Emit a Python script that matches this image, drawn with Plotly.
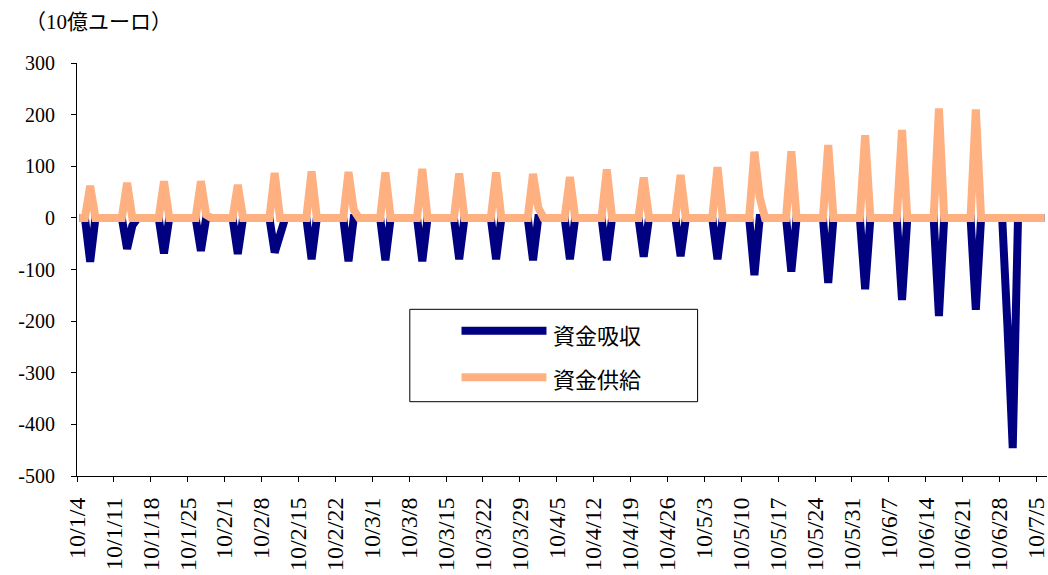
import pandas as pd
import plotly.graph_objects as go

# ---- data (10億ユーロ) ----
start_date = "2010-01-04"
end_date = "2010-07-06"

supply_dates = ["2010-01-06", "2010-01-13", "2010-01-20", "2010-01-27", "2010-02-03",
                "2010-02-10", "2010-02-17", "2010-02-24", "2010-03-03", "2010-03-10",
                "2010-03-17", "2010-03-24", "2010-03-31", "2010-04-07", "2010-04-14",
                "2010-04-21", "2010-04-28", "2010-05-05", "2010-05-12", "2010-05-19",
                "2010-05-26", "2010-06-02", "2010-06-09", "2010-06-16", "2010-06-23"]
supply_values = [62, 68, 71, 71, 64, 87, 90, 89, 88, 95, 86, 88, 85, 79, 94,
                 78, 83, 98, 128, 129, 141, 160, 170, 212, 210]
supply_extra_dates = ["2010-01-28", "2010-02-25", "2010-04-01", "2010-05-13"]
supply_extra_values = [6, 15, 20, 40]

absorb_dates = supply_dates + ["2010-06-30"]
absorb_values = [-85, -60, -69, -64, -70, -67, -80, -84, -82, -84, -80, -80, -82, -80, -82,
                 -75, -74, -80, -111, -104, -126, -138, -159, -190, -178, -446]
absorb_extra_dates = ["2010-01-14", "2010-02-11", "2010-06-29"]
absorb_extra_values = [-15, -30, -210]

tick_dates = ["2010-01-04", "2010-01-11", "2010-01-18", "2010-01-25", "2010-02-01",
              "2010-02-08", "2010-02-15", "2010-02-22", "2010-03-01", "2010-03-08",
              "2010-03-15", "2010-03-22", "2010-03-29", "2010-04-05", "2010-04-12",
              "2010-04-19", "2010-04-26", "2010-05-03", "2010-05-10", "2010-05-17",
              "2010-05-24", "2010-05-31", "2010-06-07", "2010-06-14", "2010-06-21",
              "2010-06-28", "2010-07-05"]
tick_labels = ["10/1/4", "10/1/11", "10/1/18", "10/1/25", "10/2/1", "10/2/8", "10/2/15",
               "10/2/22", "10/3/1", "10/3/8", "10/3/15", "10/3/22", "10/3/29", "10/4/5",
               "10/4/12", "10/4/19", "10/4/26", "10/5/3", "10/5/10", "10/5/17", "10/5/24",
               "10/5/31", "10/6/7", "10/6/14", "10/6/21", "10/6/28", "10/7/5"]
y_ticks = [300, 200, 100, 0, -100, -200, -300, -400, -500]
y_labels = ["300", "200", "100", "0", "-100", "-200", "-300", "-400", "-500"]

name_absorb = "資金吸収"
name_supply = "資金供給"
unit_label = "（10億ユーロ）"

# ---- build daily series (zero on days without operations) ----
days = pd.date_range(start_date, end_date, freq="D")


def daily(dates, values, extra_dates, extra_values):
    s = pd.Series(0.0, index=days)
    for d, v in zip(dates, values):
        s[pd.Timestamp(d)] = v
    for d, v in zip(extra_dates, extra_values):
        s[pd.Timestamp(d)] = v
    return s


supply = daily(supply_dates, supply_values, supply_extra_dates, supply_extra_values)
absorb = daily(absorb_dates, absorb_values, absorb_extra_dates, absorb_extra_values)
x_mid = days + pd.Timedelta(hours=12)   # points centred within each day

NAVY = "#000080"
ORANGE = "#FFB080"
NUM_FONT = "Liberation Serif, Times New Roman, DejaVu Serif, serif"
JP_FONT = "Noto Sans CJK JP"

fig = go.Figure()
fig.add_trace(go.Scatter(x=x_mid, y=absorb.values, mode="lines", name=name_absorb,
                         line=dict(color=NAVY, width=8)))
fig.add_trace(go.Scatter(x=x_mid, y=supply.values, mode="lines", name=name_supply,
                         line=dict(color=ORANGE, width=8)))

fig.update_layout(
    width=1048, height=575,
    margin=dict(l=77, r=1, t=63, b=99),
    paper_bgcolor="white", plot_bgcolor="white",
    showlegend=False,
    font=dict(family=NUM_FONT, size=20, color="black"),
)
fig.update_xaxes(
    type="date",
    range=[start_date, "2010-07-07"],
    tickvals=tick_dates, ticktext=tick_labels,
    tickangle=-90,
    ticks="outside", ticklen=5, tickcolor="black",
    showline=True, linecolor="black", linewidth=1,
    showgrid=False, zeroline=False,
    tickfont=dict(family=NUM_FONT, size=24),
    ticklabelstandoff=6,
    ticklabeloverflow="allow",
    automargin=False,
)
fig.update_yaxes(
    range=[-500, 300],
    tickvals=y_ticks, ticktext=y_labels,
    ticks="outside", ticklen=5, tickcolor="black",
    showline=True, linecolor="black", linewidth=1,
    showgrid=False, zeroline=False,
    tickfont=dict(family=NUM_FONT, size=20),
    ticklabelstandoff=12,
    automargin=False,
)

# unit label
fig.add_annotation(text=unit_label, xref="paper", yref="paper", x=-0.056, y=1.1,
                   xanchor="left", yanchor="middle", showarrow=False,
                   font=dict(family=NUM_FONT + ", Noto Sans CJK JP", size=21, color="black"))

# legend box (drawn by hand to match the long sample lines)
fig.add_shape(type="rect", xref="paper", yref="paper", x0=0.3431, x1=0.6398,
              y0=0.1799, y1=0.4036, line=dict(color="black", width=1), fillcolor="white")
fig.add_shape(type="line", xref="paper", yref="paper", x0=0.3964, x1=0.4840,
              y0=0.3518, y1=0.3518, line=dict(color=NAVY, width=8))
fig.add_shape(type="line", xref="paper", yref="paper", x0=0.3964, x1=0.4840,
              y0=0.2390, y1=0.2390, line=dict(color=ORANGE, width=8))
fig.add_annotation(text=name_absorb, xref="paper", yref="paper", x=0.4885, y=0.345,
                   xanchor="left", yanchor="middle", showarrow=False,
                   font=dict(family=JP_FONT, size=22, color="black"))
fig.add_annotation(text=name_supply, xref="paper", yref="paper", x=0.4885, y=0.2373,
                   xanchor="left", yanchor="middle", showarrow=False,
                   font=dict(family=JP_FONT, size=22, color="black"))

fig.write_html("out.html")
